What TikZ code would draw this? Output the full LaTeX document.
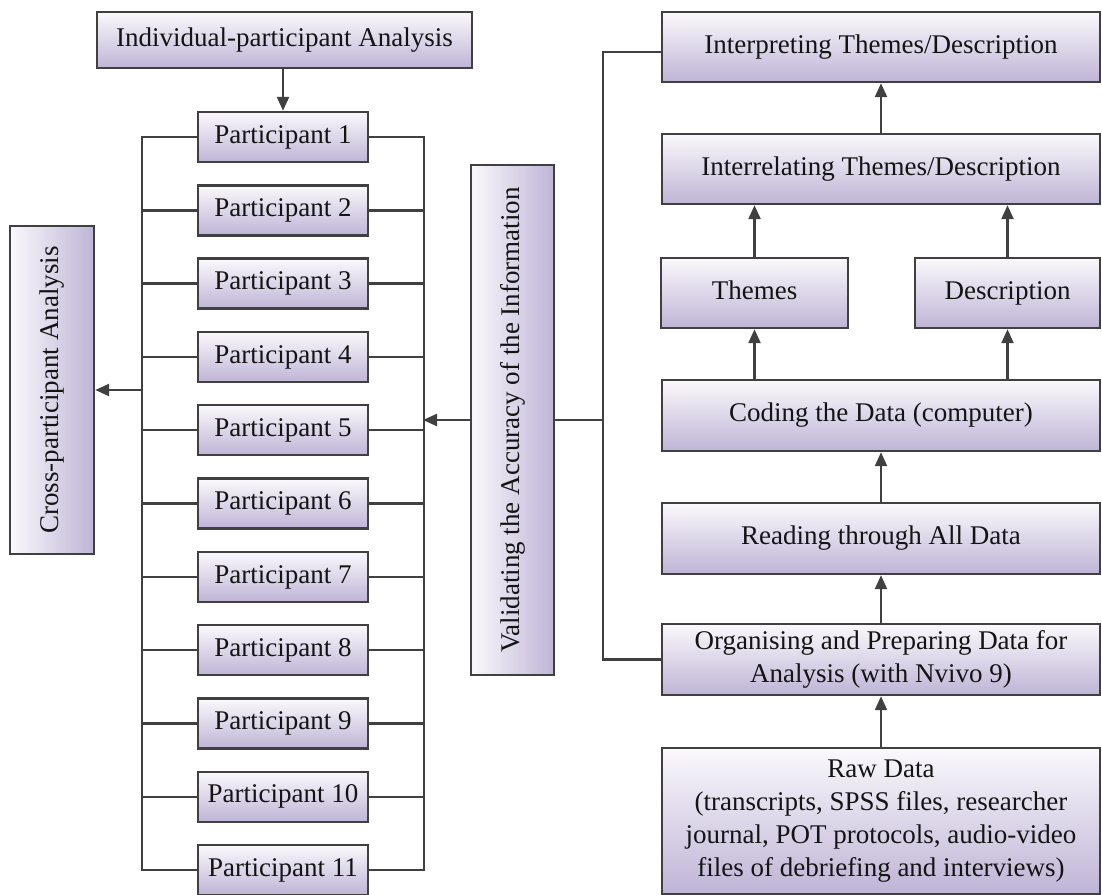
\documentclass[tikz,border=0pt]{standalone}
\usepackage{fontspec}
\setmainfont{Liberation Serif}
\usetikzlibrary{arrows.meta}
\definecolor{edge}{HTML}{404040}
\definecolor{lav}{HTML}{BFB4D6}
\definecolor{lavtop}{HTML}{FAF9FC}
\tikzset{
  box/.style={draw=edge, line width=2.4pt, top color=lavtop, bottom color=lav,
    inner sep=0pt, align=center, font=\fontsize{27}{33}\selectfont, text=black!92},
  one/.style={text height=18.5pt, text depth=6pt},
  vbox/.style={draw=edge, line width=2.4pt, left color=lavtop, right color=lav,
    inner sep=0pt, align=center, font=\fontsize{27}{33}\selectfont, text=black!92},
  conn/.style={draw=edge, line width=2.4pt},
  arr/.style={conn, -{Triangle[length=14pt,width=12pt]}}
}
\begin{document}
\begin{tikzpicture}[x=1pt,y=-1pt]
\useasboundingbox (0,0) rectangle (1102,894);
% left part
\node[box, one, minimum width=375pt, minimum height=56pt] (ind) at (284.5,40) {Individual-participant Analysis};
\foreach \i in {1,...,11}{
  \node[box, one, minimum width=170pt, minimum height=50pt] (p\i) at (283,{137+73.3*(\i-1)}) {Participant \i};
}
\node[vbox, minimum width=84pt, minimum height=328pt] (cross) at (52,390) {\rotatebox{90}{Cross-participant Analysis}};
\node[vbox, minimum width=83pt, minimum height=510pt] (val) at (512.5,420) {\rotatebox{90}{Validating the Accuracy of the Information}};
% right part
\node[box, one, minimum width=438pt, minimum height=70pt] (interp) at (881,47) {Interpreting Themes/Description};
\node[box, one, minimum width=438pt, minimum height=70pt] (interrel) at (881,169) {Interrelating Themes/Description};
\node[box, one, minimum width=187pt, minimum height=70pt] (themes) at (754.5,293) {Themes};
\node[box, one, minimum width=185pt, minimum height=70pt] (desc) at (1007.5,293) {Description};
\node[box, one, minimum width=438pt, minimum height=71pt] (coding) at (881,415.5) {Coding the Data (computer)};
\node[box, one, minimum width=438pt, minimum height=71pt] (reading) at (881,538.5) {Reading through All Data};
\node[box, minimum width=438pt, minimum height=71pt] (org) at (881,659.5) {Organising and Preparing Data for\\Analysis (with Nvivo 9)};
\node[box, minimum width=438pt, minimum height=146pt] (raw) at (881,821) {Raw Data\\(transcripts, SPSS files, researcher\\journal, POT protocols, audio-video\\files of debriefing and interviews)};
% coordinates
\coordinate (lbx) at (143,390);
\coordinate (rbx) at (423,420);
\coordinate (vb) at (603,420);
% connectors left
\draw[arr] (ind.south -| p1.north) -- (p1.north);
\draw[conn] (p1.west) -- ++(-55,0) |- (p11.west);
\draw[conn] (p1.east) -- ++(55,0) |- (p11.east);
\foreach \i in {2,...,10}{
  \draw[conn] (p\i.west) -- ++(-55,0);
  \draw[conn] (p\i.east) -- ++(55,0);
}
\draw[arr] (lbx) -- (cross.east);
\draw[arr] (val.west) -- (rbx);
\draw[conn] (val.east) -- (vb);
\draw[conn] (vb) |- ([yshift=-5pt]interp.west);
\draw[conn] (vb) |- (org.west);
% connectors right
\draw[arr] (interrel.north) -- (interp.south);
\draw[arr] (themes.north) -- (themes.north |- interrel.south);
\draw[arr] (desc.north) -- (desc.north |- interrel.south);
\draw[arr] (themes.south |- coding.north) -- (themes.south);
\draw[arr] (desc.south |- coding.north) -- (desc.south);
\draw[arr] (reading.north) -- (coding.south);
\draw[arr] (org.north) -- (reading.south);
\draw[arr] (raw.north) -- (org.south);
\end{tikzpicture}
\end{document}
